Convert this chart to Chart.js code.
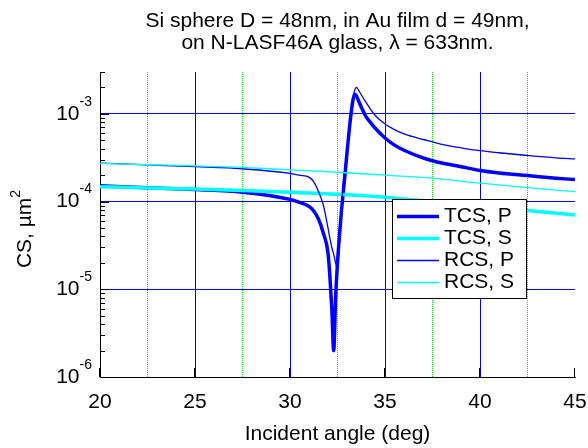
<!DOCTYPE html>
<html><head><meta charset="utf-8">
<script src="https://cdn.jsdelivr.net/npm/chart.js@4.4.1/dist/chart.umd.min.js"></script>
<style>html,body{margin:0;padding:0;background:#fff;}canvas{display:block;}</style>
</head><body>
<canvas id="c" width="588" height="448"></canvas>
<script>
const titleLines = ['Si sphere D = 48nm, in Au film d = 49nm,', 'on N-LASF46A glass, \u03bb = 633nm.'];
const xTitle = 'Incident angle (deg)';
const yTitleBase = 'CS, \u00b5m';
const yTitleExp = '2';
const xMajorTicks = [20, 25, 30, 35, 40, 45];
const yDecades = [-6, -5, -4, -3];
const seriesLabels = ['TCS, P', 'TCS, S', 'RCS, P', 'RCS, S'];

const anglesP = [20, 22.5, 25, 27.5, 30, 30.5, 31, 31.25, 31.5, 31.75, 32, 32.1, 32.2, 32.3, 32.4, 32.5, 32.6, 32.7, 32.8, 32.9, 33, 33.1, 33.2, 33.3, 33.4, 33.5, 33.6, 33.75, 34, 34.25, 34.5, 35, 35.5, 36, 37, 37.5, 38, 39, 40, 41, 42.5, 44, 45];
const tcsP = [1.51e-4, 1.44e-4, 1.37e-4, 1.28e-4, 1.06e-4, 9.8e-5, 8.8e-5, 7.8e-5, 6.3e-5, 4.4e-5, 2.6e-5, 1.4e-5, 6.0e-6, 2.0e-6, 8.0e-6, 2.0e-5, 4.0e-5, 7.5e-5, 1.25e-4, 2.1e-4, 3.6e-4, 6.0e-4, 9.5e-4, 1.38e-3, 1.67e-3, 1.6e-3, 1.42e-3, 1.2e-3, 9.3e-4, 7.9e-4, 6.8e-4, 5.3e-4, 4.4e-4, 3.85e-4, 3.15e-4, 2.92e-4, 2.75e-4, 2.5e-4, 2.26e-4, 2.12e-4, 1.98e-4, 1.85e-4, 1.78e-4];
const rcsP = [2.75e-4, 2.62e-4, 2.5e-4, 2.36e-4, 2.1e-4, 2.0e-4, 1.9e-4, 1.68e-4, 1.3e-4, 9.2e-5, 5.0e-5, 3.8e-5, 3.0e-5, 2.5e-5, 2.0e-5, 1.7e-5, 3.5e-5, 7.9e-5, 1.6e-4, 2.5e-4, 3.8e-4, 6.5e-4, 1.0e-3, 1.45e-3, 1.85e-3, 2.0e-3, 1.88e-3, 1.65e-3, 1.35e-3, 1.12e-3, 9.5e-4, 7.65e-4, 6.6e-4, 5.9e-4, 5.1e-4, 4.8e-4, 4.5e-4, 4.1e-4, 3.8e-4, 3.6e-4, 3.35e-4, 3.15e-4, 3.07e-4];
const anglesS = [20, 22.5, 25, 27.5, 30, 32.5, 35, 37.5, 40, 42.5, 45];
const tcsS = [1.48e-4, 1.43e-4, 1.39e-4, 1.34e-4, 1.28e-4, 1.21e-4, 1.12e-4, 1.0e-4, 8.9e-5, 7.9e-5, 7.05e-5];
const rcsS = [2.72e-4, 2.63e-4, 2.55e-4, 2.45e-4, 2.30e-4, 2.16e-4, 2.0e-4, 1.85e-4, 1.62e-4, 1.44e-4, 1.30e-4];

const FONT = '"Liberation Sans", Arial, Helvetica, sans-serif';
const BLUE = '#0000ff', CYAN = '#00ffff', GREEN = '#00ee00';
const pts = (xs, ys) => xs.map((x, i) => ({x: x, y: ys[i]}));

const styles = [
  {color: BLUE, width: 3.5},
  {color: CYAN, width: 3.5},
  {color: BLUE, width: 1.3},
  {color: CYAN, width: 1.3}
];
const seriesData = [pts(anglesP, tcsP), pts(anglesS, tcsS), pts(anglesP, rcsP), pts(anglesS, rcsS)];

const datasets = seriesLabels.map((lab, i) => ({
  label: lab,
  data: seriesData[i],
  borderColor: styles[i].color,
  backgroundColor: styles[i].color,
  borderWidth: styles[i].width,
  pointRadius: 0,
  fill: false,
  cubicInterpolationMode: 'monotone',
  order: 4 - i
}));

const decor = {
  id: 'decor',
  afterDraw(chart) {
    const ctx = chart.ctx, ca = chart.chartArea;
    const xs = chart.scales.x, ys = chart.scales.y;
    const cx = (ca.left + ca.right) / 2;
    ctx.save();
    ctx.fillStyle = '#000';
    // title
    ctx.font = '21px ' + FONT;
    ctx.textAlign = 'center';
    ctx.textBaseline = 'middle';
    ctx.fillText(titleLines[0], cx, 21);
    ctx.fillText(titleLines[1], cx, 43);
    // x title
    ctx.fillText(xTitle, cx, 434);
    // inward ticks
    ctx.strokeStyle = '#000';
    ctx.lineWidth = 1;
    ctx.beginPath();
    yDecades.forEach(d => {
      for (let m = 1; m <= 9; m++) {
        const v = m * Math.pow(10, d);
        if (v < ys.min || v > ys.max) continue;
        const y = Math.round(ys.getPixelForValue(v)) + 0.5;
        const len = m === 1 ? 9 : 5;
        ctx.moveTo(ca.left, y); ctx.lineTo(ca.left + len, y);
      }
    });
    xMajorTicks.forEach(v => {
      const x = Math.round(xs.getPixelForValue(v)) - 0.5;
      ctx.moveTo(x, ca.bottom); ctx.lineTo(x, ca.bottom - 9);
    });
    ctx.stroke();
    // y tick labels with superscripts
    yDecades.forEach(d => {
      const y = ys.getPixelForValue(Math.pow(10, d));
      const expStr = '-' + Math.abs(d);
      ctx.font = '14px ' + FONT;
      const we = ctx.measureText(expStr).width;
      ctx.font = '21px ' + FONT;
      const wb = ctx.measureText('10').width;
      const xEnd = 92;
      ctx.textAlign = 'left';
      ctx.fillText('10', xEnd - we - wb, y);
      ctx.font = '14px ' + FONT;
      ctx.fillText(expStr, xEnd - we, y - 12);
    });
    // y title rotated
    ctx.save();
    ctx.translate(25, 229);
    ctx.rotate(-Math.PI / 2);
    ctx.font = '21px ' + FONT;
    const wt = ctx.measureText(yTitleBase).width;
    ctx.font = '14px ' + FONT;
    const w2 = ctx.measureText(yTitleExp).width;
    const x0 = -(wt + w2) / 2;
    ctx.font = '21px ' + FONT;
    ctx.textAlign = 'left';
    ctx.fillText(yTitleBase, x0, 0);
    ctx.font = '14px ' + FONT;
    ctx.fillText(yTitleExp, x0 + wt, -9);
    ctx.restore();
    // legend
    const L = 392.5, T = 199.5, W = 134, H = 99;
    ctx.fillStyle = '#fff';
    ctx.fillRect(L, T, W, H);
    ctx.strokeStyle = '#000';
    ctx.lineWidth = 1;
    ctx.strokeRect(L, T, W, H);
    chart.data.datasets.forEach((ds, i) => {
      const y = 216.5 + i * 22;
      ctx.strokeStyle = ds.borderColor;
      ctx.lineWidth = ds.borderWidth;
      ctx.beginPath();
      ctx.moveTo(397, y); ctx.lineTo(439, y);
      ctx.stroke();
      ctx.fillStyle = '#000';
      ctx.font = '21px ' + FONT;
      ctx.textAlign = 'left';
      ctx.textBaseline = 'middle';
      ctx.fillText(ds.label, 444, y);
    });
    ctx.restore();
  }
};

new Chart(document.getElementById('c'), {
  type: 'line',
  data: {datasets: datasets},
  plugins: [decor],
  options: {
    responsive: false,
    animation: false,
    devicePixelRatio: 1,
    layout: {padding: {left: 0, right: 13, top: 72, bottom: 0}},
    plugins: {legend: {display: false}, title: {display: false}, tooltip: {enabled: false}},
    scales: {
      x: {
        type: 'linear', min: 20, max: 45,
        ticks: {
          stepSize: 2.5, autoSkip: false, maxRotation: 0, padding: 13,
          color: '#000', font: {family: FONT, size: 21},
          callback: v => (v % 5 === 0 ? String(v) : '')
        },
        afterFit: s => { s.height = 71; s.paddingLeft = 0; s.paddingRight = 0; },
        grid: {
          drawTicks: false,
          lineWidth: 1,
          color: c => {
            if (!c.tick) return BLUE;
            const v = c.tick.value;
            if (v === 20 || v === 45) return 'rgba(0,0,0,0)';
            return (v % 5 === 0) ? BLUE : GREEN;
          }
        },
        border: {
          display: true, color: '#000', width: 1,
          dash: c => (c.tick && c.tick.value % 5 !== 0) ? [1, 1] : []
        }
      },
      y: {
        type: 'logarithmic', min: 1e-6, max: 3e-3,
        afterBuildTicks: s => { s.ticks = yDecades.map(d => ({value: Math.pow(10, d)})); },
        afterFit: s => { s.width = 100; s.paddingTop = 0; s.paddingBottom = 0; },
        ticks: {display: false},
        grid: {
          drawTicks: false, lineWidth: 1,
          color: c => (c.tick && c.tick.value <= 1.0001e-6) ? 'rgba(0,0,0,0)' : BLUE
        },
        border: {display: true, color: '#000', width: 1}
      }
    }
  }
});
</script>
</body></html>
